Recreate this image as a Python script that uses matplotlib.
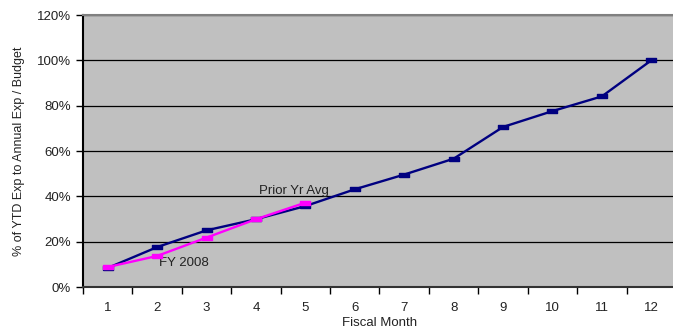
import numpy as np
import matplotlib.pyplot as plt
from matplotlib.ticker import FuncFormatter, FixedLocator

plt.rcParams['font.family'] = ['Liberation Sans', 'DejaVu Sans']

months = [1, 2, 3, 4, 5, 6, 7, 8, 9, 10, 11, 12]
prior_yr_avg = [8.4, 17.6, 25.0, 29.9, 35.7, 43.1, 49.6, 56.6, 70.6, 77.6, 84.1, 100.0]
fy2008 = [8.8, 13.7, 21.8, 29.9, 37.2]

# wide flat box marker, like the spreadsheet's dash markers
box = [(-1, -0.5), (1, -0.5), (1, 0.5), (-1, 0.5), (-1, -0.5)]

fig = plt.figure(figsize=(6.73, 3.33), dpi=100)
ax = fig.add_axes([83 / 673, 46 / 333, 593 / 673, 272 / 333])
ax.set_facecolor('#C0C0C0')

x = np.arange(len(months))
ax.plot(x, prior_yr_avg, color='#000080', lw=1.7, marker=box, ms=7,
        mfc='#000080', mec='#000080', zorder=3)
ax.plot(x[:len(fy2008)], fy2008, color='#FF00FF', lw=1.7, marker=box, ms=7,
        mfc='#FF00FF', mec='#FF00FF', zorder=4)

ax.text(3.77, 42.4, 'Prior Yr Avg', fontsize=9.5, color='#222222',
        ha='center', va='center')
ax.text(1.54, 10.8, 'FY 2008', fontsize=9.5, color='#222222',
        ha='center', va='center')

ax.set_xlim(-0.5, len(months) - 0.5)
ax.set_ylim(0, 120)

ax.yaxis.set_major_locator(FixedLocator(range(0, 121, 20)))
ax.yaxis.set_major_formatter(FuncFormatter(lambda v, p: '%d%%' % v))
ax.grid(axis='y', color='black', lw=0.9)
ax.set_axisbelow(True)

# category labels at centres, tick marks between categories
ax.set_xticks(x)
ax.set_xticklabels([str(m) for m in months])
ax.set_xticks(np.arange(-0.5, len(months)), minor=True)
ax.tick_params(axis='x', which='major', length=0, pad=11, labelsize=9.5, labelcolor='#222222')
ax.tick_params(axis='x', which='minor', length=5, width=1, color='black')
ax.tick_params(axis='y', length=5, width=1, labelsize=9.5, labelcolor='#222222')

ax.spines['left'].set_color('black')
ax.spines['left'].set_linewidth(1.5)
ax.spines['bottom'].set_color('#333333')
ax.spines['bottom'].set_linewidth(1.5)
ax.spines['top'].set_color('#808080')
ax.spines['top'].set_linewidth(1.5)
ax.spines['right'].set_visible(False)

ax.set_xlabel('Fiscal Month', fontsize=9.5, color='#222222', labelpad=2)
ax.set_ylabel('% of YTD Exp to Annual Exp / Budget', fontsize=9, color='#222222')
ax.yaxis.set_label_coords(-0.098, 0.5)

fig.savefig('out.png', dpi=100)
